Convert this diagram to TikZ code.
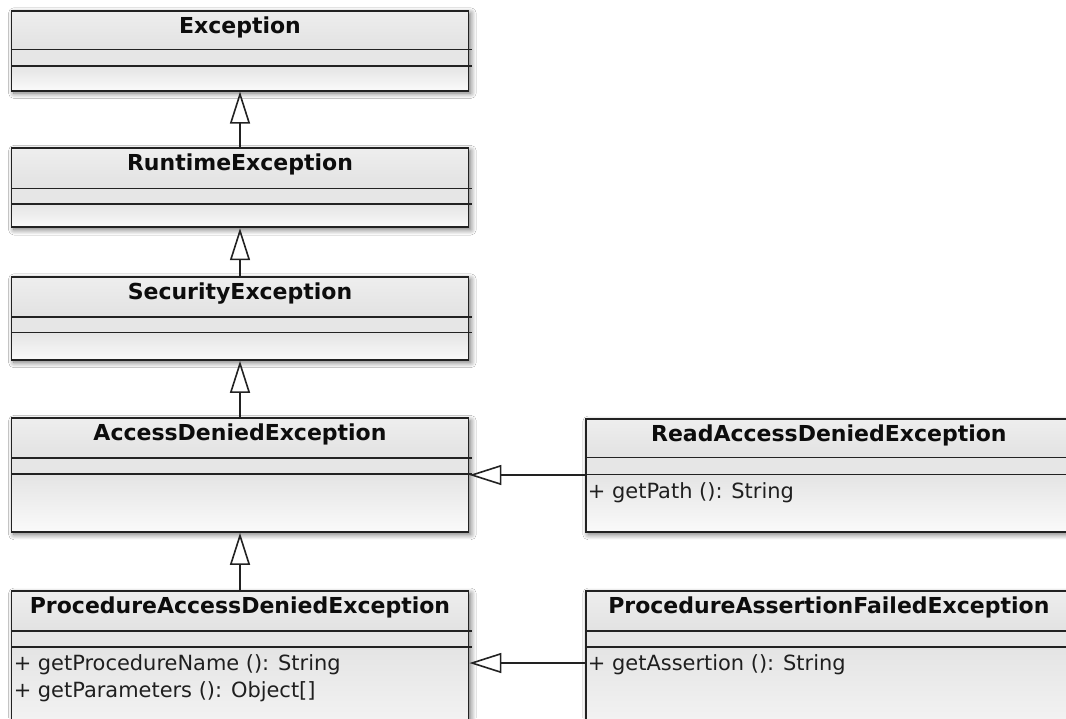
\documentclass[tikz,border=0pt]{standalone}
\usepackage{fontspec}
\setmainfont{DejaVu Sans}
\usetikzlibrary{arrows.meta,fit,shadows.blur}
\definecolor{framecol}{HTML}{222222}
\definecolor{titletop}{HTML}{EEEEEE}
\definecolor{titlebot}{HTML}{E2E2E2}
\definecolor{attrcol}{HTML}{E6E6E6}
\definecolor{opstop}{HTML}{E4E4E4}
\definecolor{opsbot}{HTML}{FAFAFA}
\tikzset{
  frame/.style={draw=framecol, line width=1.35pt, inner sep=0pt},
  sepline/.style={draw=framecol, line width=1.2pt},
  titletext/.style={font=\fontsize{16.5}{19}\selectfont\bfseries, text=black!95, inner sep=0pt, anchor=base},
  optext/.style={font=\fontsize{15.7}{19}\selectfont, text=black!88, inner sep=0pt, anchor=base west},
  inherit/.style={draw=framecol, line width=1.2pt, -{Triangle[length=24pt,width=15pt,fill=white]}},
  boxshadow/.style={blur shadow={shadow xshift=1.8pt, shadow yshift=-1.8pt, shadow blur radius=4pt, shadow blur steps=10, shadow opacity=55}}
}
% #1 name, #2 x1, #3 y1, #4 x2, #5 y2, #6 divider 1, #7 divider 2, #8 title
\newcommand{\umlbox}[8]{%
  \fill[white, boxshadow] (#2,#3) rectangle (#4,#5);
  \shade[top color=titletop, bottom color=titlebot] (#2,#3) rectangle (#4,#6);
  \fill[attrcol] (#2,#6) rectangle (#4,#7);
  \shade[top color=opstop, bottom color=opsbot] (#2,#7) rectangle (#4,#5);
  \node[frame, fit={(#2,#3) (#4,#5)}] (#1) {};
  \draw[sepline] (#2,#6) -- ({#4+3},#6);
  \draw[sepline] (#2,#7) -- ({#4+3},#7);
  \node[titletext] (#1-title) at ({(#2+#4)/2},{#3+22.5}) {#8};
  \coordinate (#1-ops) at (#2,#7);
}
\begin{document}
\begin{tikzpicture}[x=0.75pt,y=-0.75pt]
\useasboundingbox (0,0) rectangle (1066,718);
\clip (0,0) rectangle (1066,718);
\fill[white] (0,0) rectangle (1066,718);

\umlbox{exc}{11.5}{10.7}{468.5}{90.7}{49.3}{66}{Exception}
\umlbox{rte}{11.5}{148.3}{468.5}{227.3}{188.3}{204}{RuntimeException}
\umlbox{sec}{11.5}{276.7}{468.5}{360}{316.7}{332.3}{SecurityException}
\umlbox{ade}{11.5}{418.3}{468.5}{532}{458}{474}{AccessDeniedException}
\umlbox{pade}{11.5}{591}{468.5}{760}{631}{647}{ProcedureAccessDeniedException}
\umlbox{rade}{585.7}{419}{1072}{532}{457.5}{474.5}{ReadAccessDeniedException}
\umlbox{pafe}{585.7}{591}{1072}{760}{631}{647}{ProcedureAssertionFailedException}

% operations
\node[optext] (rade-op1) at ([xshift=1.5]rade-ops |- 0,498) {+ getPath (): String};
\node[optext] (pade-op1) at ([xshift=1.5]pade-ops |- 0,670) {+ getProcedureName (): String};
\node[optext] (pade-op2) at ([xshift=1.5]pade-ops |- 0,697) {+ getParameters (): Object[]};
\node[optext] (pafe-op1) at ([xshift=1.5]pafe-ops |- 0,670) {+ getAssertion (): String};

% generalizations
\draw[inherit] (rte.north) -- (exc.south);
\draw[inherit] (sec.north) -- (rte.south);
\draw[inherit] (ade.north) -- (sec.south);
\draw[inherit] (pade.north) -- (ade.south);
\coordinate (h1) at (0,475);
\coordinate (h2) at (0,663);
\draw[inherit] (rade.west |- h1) -- (ade.east |- h1);
\draw[inherit] (pafe.west |- h2) -- (pade.east |- h2);
\end{tikzpicture}
\end{document}
